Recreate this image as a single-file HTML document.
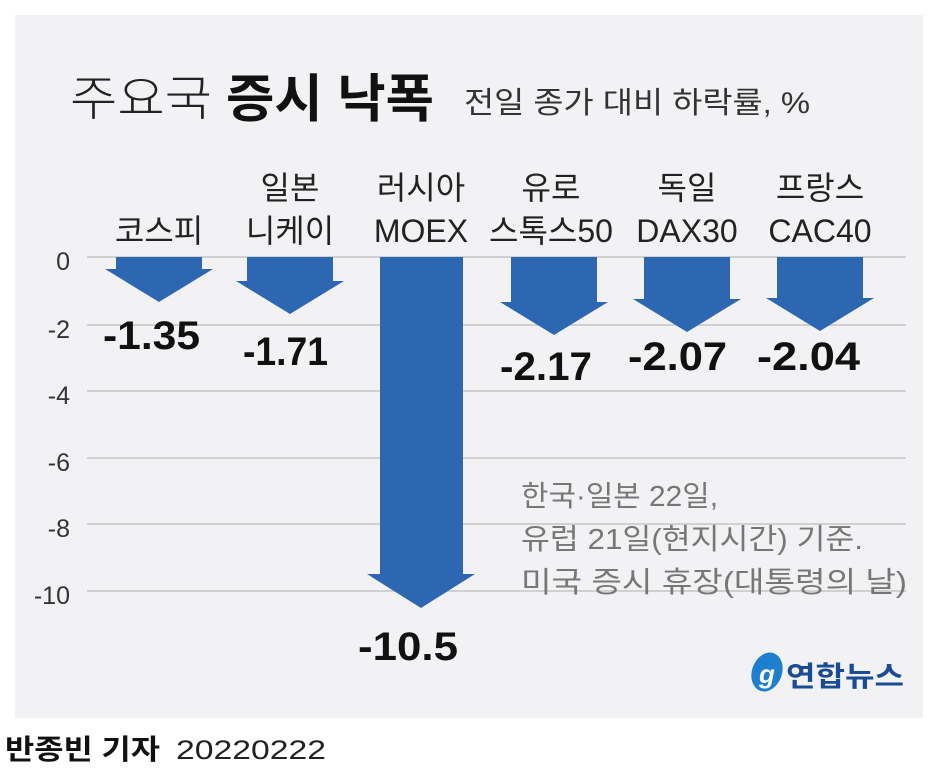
<!DOCTYPE html>
<html><head><meta charset="utf-8"><style>
html,body{margin:0;padding:0;background:#fff}
svg{display:block}
text{font-family:"Liberation Sans","Noto Sans CJK KR",sans-serif}
</style></head><body>
<svg width="937" height="781" viewBox="0 0 937 781" xmlns="http://www.w3.org/2000/svg">
<rect x="15" y="15" width="908" height="703" fill="#f2f2f4"/>
<text x="70" y="115" font-size="48" fill="#222" font-weight="300" textLength="142" lengthAdjust="spacingAndGlyphs">주요국</text>
<text x="226" y="117" font-size="52" fill="#111" font-weight="bold" textLength="208" lengthAdjust="spacingAndGlyphs">증시 낙폭</text>
<text x="464" y="113" font-size="30" fill="#333" textLength="346" lengthAdjust="spacingAndGlyphs">전일 종가 대비 하락률, %</text>
<g stroke="#c4c4c4" stroke-width="1.5">
<line x1="87" y1="257" x2="906" y2="257"/>
<line x1="87" y1="325" x2="906" y2="325"/>
<line x1="87" y1="391" x2="906" y2="391"/>
<line x1="87" y1="458" x2="906" y2="458"/>
<line x1="87" y1="524" x2="906" y2="524"/>
<line x1="87" y1="591" x2="906" y2="591"/>
</g>
<g font-size="25" fill="#333" text-anchor="end">
<text x="70" y="270">0</text><text x="70" y="338">-2</text><text x="70" y="404">-4</text>
<text x="70" y="471">-6</text><text x="70" y="537">-8</text><text x="70" y="604">-10</text>
</g>
<g font-size="32" fill="#222" text-anchor="middle">
<text x="159" y="242">코스피</text>
<text x="290" y="199">일본</text><text x="290" y="242">니케이</text>
<text x="421" y="199">러시아</text><text x="421" y="242">MOEX</text>
<text x="551" y="199">유로</text><text x="551" y="242">스톡스50</text>
<text x="687" y="199">독일</text><text x="687" y="242">DAX30</text>
<text x="820" y="199">프랑스</text><text x="820" y="242">CAC40</text>
</g>
<g fill="#2e67b1">
<polygon points="116,257 202,257 202,269 213,269 159,302 105,269 116,269"/>
<polygon points="247,257 333,257 333,281 344,281 290,314 236,281 247,281"/>
<polygon points="380,257 463,257 463,574 475,574 421,608 367,574 380,574"/>
<polygon points="511,257 597,257 597,302 608,302 554,335 500,302 511,302"/>
<polygon points="644,257 730,257 730,299 741,299 687,332 633,299 644,299"/>
<polygon points="777,257 863,257 863,298 874,298 820,331 766,298 777,298"/>
</g>
<g font-size="40" fill="#111" font-weight="bold" lengthAdjust="spacingAndGlyphs">
<text x="103" y="349" textLength="97" lengthAdjust="spacingAndGlyphs">-1.35</text>
<text x="243" y="365" textLength="85" lengthAdjust="spacingAndGlyphs">-1.71</text>
<text x="358" y="660" textLength="100" lengthAdjust="spacingAndGlyphs">-10.5</text>
<text x="500" y="380" textLength="92" lengthAdjust="spacingAndGlyphs">-2.17</text>
<text x="628" y="370" textLength="99" lengthAdjust="spacingAndGlyphs">-2.07</text>
<text x="757" y="370" textLength="103" lengthAdjust="spacingAndGlyphs">-2.04</text>
</g>
<g font-size="29" fill="#777">
<text x="521" y="506" textLength="197" lengthAdjust="spacingAndGlyphs">한국·일본 22일,</text>
<text x="521" y="549" textLength="342" lengthAdjust="spacingAndGlyphs">유럽 21일(현지시간) 기준.</text>
<text x="521" y="592" textLength="386" lengthAdjust="spacingAndGlyphs">미국 증시 휴장(대통령의 날)</text>
</g>
<ellipse cx="767" cy="672" rx="15" ry="20" fill="#1f7fcf" transform="rotate(20 767 672)"/>
<text x="767" y="683" font-size="26" fill="#fff" font-style="italic" font-weight="bold" text-anchor="middle">g</text>
<text x="786" y="686" font-size="28" fill="#1a4b95" font-weight="bold" textLength="118" lengthAdjust="spacingAndGlyphs">연합뉴스</text>
<text x="5" y="759" font-size="28" fill="#111" font-weight="bold" textLength="155" lengthAdjust="spacingAndGlyphs">반종빈 기자</text>
<text x="176" y="759" font-size="27" fill="#222" textLength="150" lengthAdjust="spacingAndGlyphs">20220222</text>
</svg>
</body></html>
